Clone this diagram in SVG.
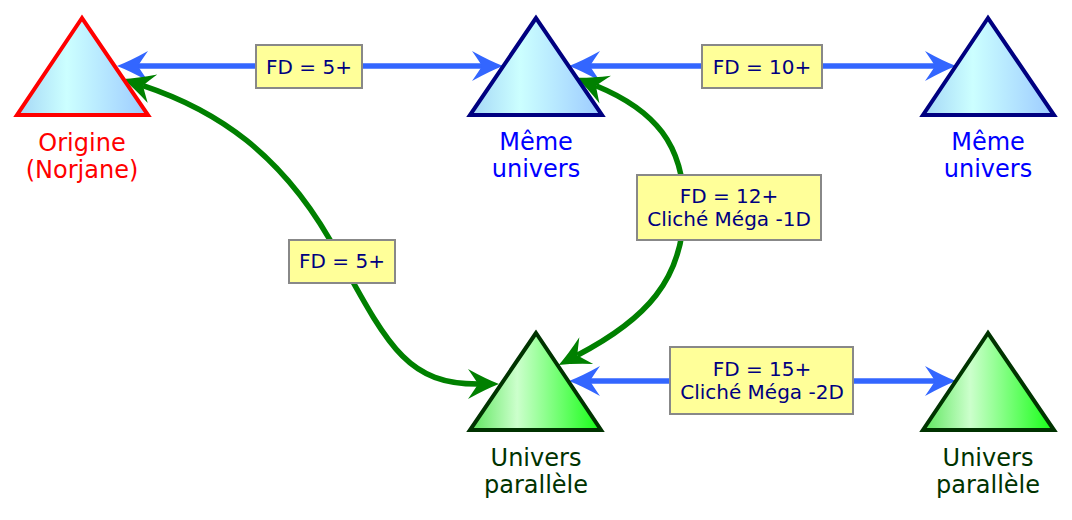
<svg xmlns="http://www.w3.org/2000/svg" width="1072" height="520" viewBox="0 0 1072 520">
<style>
text{font-family:"DejaVu Sans","Liberation Sans",sans-serif;text-anchor:middle}
.lbl{font-size:24px}
.box rect{fill:#ffff99;stroke:#888888;stroke-width:2}
.box text{font-size:20px;fill:#000080}
.blue{fill:none;stroke:#3366ff;stroke-width:5.5}
.green{fill:none;stroke:#008000;stroke-width:5.5}
</style>
<defs>
<linearGradient id="gBlue" x1="0" y1="0" x2="1" y2="0">
<stop offset="0" stop-color="#a4d6f6"/>
<stop offset="0.38" stop-color="#ccffff"/>
<stop offset="1" stop-color="#9ccaff"/>
</linearGradient>
<linearGradient id="gGreen" x1="0" y1="0" x2="1" y2="0">
<stop offset="0" stop-color="#5ce65c"/>
<stop offset="0.36" stop-color="#ccffcc"/>
<stop offset="1" stop-color="#14ff14"/>
</linearGradient>
<marker id="aBlue" markerUnits="userSpaceOnUse" orient="auto-start-reverse" viewBox="-15 -18 40 36" refX="0" refY="0" markerWidth="40" markerHeight="36">
<path d="M21,0 Q8,-5 -10,-15 Q-3,-5 0,0 Q-3,5 -10,15 Q8,5 21,0 Z" fill="#3366ff"/>
</marker>
<marker id="aGreen" markerUnits="userSpaceOnUse" orient="auto-start-reverse" viewBox="-15 -18 40 36" refX="0" refY="0" markerWidth="40" markerHeight="36">
<path d="M21,0 Q8,-5 -10,-15 Q-3,-5 0,0 Q-3,5 -10,15 Q8,5 21,0 Z" fill="#008000"/>
</marker>
</defs>

<g id="connectors">
<path class="blue" d="M138,66 H482" marker-start="url(#aBlue)" marker-end="url(#aBlue)"/>
<path class="blue" d="M590,66 H935" marker-start="url(#aBlue)" marker-end="url(#aBlue)"/>
<path class="blue" d="M590,381 H935" marker-start="url(#aBlue)" marker-end="url(#aBlue)"/>
<path class="green" d="M143,85.6 C210,108 285,150 342,262 C390,350 410,384 478,384" marker-start="url(#aGreen)" marker-end="url(#aGreen)"/>
<path class="green" d="M596,85.7 C655,110 684,145 684,207 C684,280 645,320 577.4,355.2" marker-start="url(#aGreen)" marker-end="url(#aGreen)"/>
<g class="box"><rect x="256" y="45" width="106" height="43"/><text x="309" y="74">FD = 5+</text></g>
<g class="box"><rect x="702" y="45" width="120" height="43"/><text x="762" y="74">FD = 10+</text></g>
<g class="box"><rect x="289" y="240" width="106" height="43"/><text x="342" y="268">FD = 5+</text></g>
<g class="box"><rect x="637" y="175" width="184" height="65"/><text x="729" y="203">FD = 12+</text><text x="729" y="226">Cliché Méga -1D</text></g>
<g class="box"><rect x="670" y="347" width="183" height="67"/><text x="762" y="376">FD = 15+</text><text x="762" y="399">Cliché Méga -2D</text></g>
</g>

<g id="origine">
<polygon points="82,18 17,115 148,115" fill="url(#gBlue)" stroke="#ff0000" stroke-width="4"/>
<text class="lbl" x="82" y="151" fill="#ff0000">Origine</text>
<text class="lbl" x="82" y="178" fill="#ff0000">(Norjane)</text>
</g>
<g id="meme1">
<polygon points="536,18 470,115 602,115" fill="url(#gBlue)" stroke="#000080" stroke-width="4"/>
<text class="lbl" x="536" y="150" fill="#0000ff">Même</text>
<text class="lbl" x="536" y="177" fill="#0000ff">univers</text>
</g>
<g id="meme2">
<polygon points="988,18 923,115 1054,115" fill="url(#gBlue)" stroke="#000080" stroke-width="4"/>
<text class="lbl" x="988" y="150" fill="#0000ff">Même</text>
<text class="lbl" x="988" y="177" fill="#0000ff">univers</text>
</g>
<g id="parallele1">
<polygon points="536,333 470,430 601,430" fill="url(#gGreen)" stroke="#003300" stroke-width="4"/>
<text class="lbl" x="536" y="466" fill="#003300">Univers</text>
<text class="lbl" x="536" y="493" fill="#003300">parallèle</text>
</g>
<g id="parallele2">
<polygon points="988,333 923,430 1054,430" fill="url(#gGreen)" stroke="#003300" stroke-width="4"/>
<text class="lbl" x="988" y="466" fill="#003300">Univers</text>
<text class="lbl" x="988" y="493" fill="#003300">parallèle</text>
</g>
</svg>
